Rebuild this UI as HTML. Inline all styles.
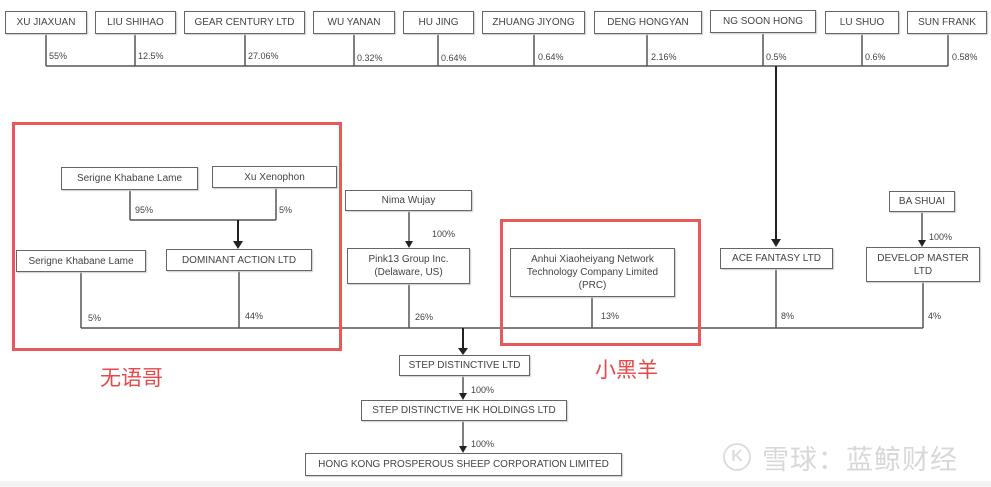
<!DOCTYPE html>
<html><head><meta charset="utf-8"><style>
body{margin:0;width:991px;height:487px;background:#fff;position:relative;overflow:hidden;font-family:"Liberation Sans","Noto Sans CJK SC",sans-serif;}
.b{position:absolute;border:1.5px solid #666;box-sizing:border-box;background:#fff;color:#444;font-size:10px;display:flex;align-items:center;justify-content:center;text-align:center;line-height:13px;box-shadow:1px 1px 1px #ccc;}
.p{position:absolute;font-size:9px;color:#444;}
.r{position:absolute;border:3px solid #e85a5a;box-sizing:border-box;}
.cn{position:absolute;color:#e84848;font-size:21px;font-family:"Noto Sans CJK SC",sans-serif;}
</style></head><body>
<svg width="991" height="487" style="position:absolute;left:0;top:0" stroke="#555" stroke-width="1.5" fill="none">
<path d="M46 34V66M135 34V66M245 34V66M354 34V66M438 34V66M534 34V66M647 34V66M763 34V66M862 34V66M948 34V66M46 66H948"/>
<path d="M776 66V240" stroke="#222" stroke-width="2"/>
<path d="M130 190V220M276 188V220M130 220H276"/>
<path d="M238 220V242" stroke="#222" stroke-width="2"/>
<path d="M81 272V328M239 271V328M409 284V328M592 297V328M776 269V328M923 282V328M81 328H923"/>
<path d="M409 211V242M922 212V241"/>
<path d="M463 328V349" stroke="#222" stroke-width="2"/>
<path d="M463 375V394M463 421V447"/>
<g fill="#222" stroke="none">
<path d="M771 239h10l-5 8z"/><path d="M233 241h10l-5 8z"/><path d="M405 241h8l-4 7z"/><path d="M918 240h8l-4 7z"/><path d="M458 348h10l-5 7z"/><path d="M459 393h8l-4 7z"/><path d="M459 446h8l-4 7z"/>
</g>
</svg>
<div class="b" style="left:5px;top:11px;width:82px;height:23px">XU JIAXUAN</div>
<div class="b" style="left:95px;top:11px;width:81px;height:23px">LIU SHIHAO</div>
<div class="b" style="left:184px;top:11px;width:121px;height:23px">GEAR CENTURY LTD</div>
<div class="b" style="left:313px;top:11px;width:82px;height:23px">WU YANAN</div>
<div class="b" style="left:403px;top:11px;width:71px;height:23px">HU JING</div>
<div class="b" style="left:482px;top:11px;width:103px;height:23px">ZHUANG JIYONG</div>
<div class="b" style="left:594px;top:11px;width:108px;height:23px">DENG HONGYAN</div>
<div class="b" style="left:710px;top:10px;width:106px;height:23px">NG SOON HONG</div>
<div class="b" style="left:825px;top:11px;width:74px;height:23px">LU SHUO</div>
<div class="b" style="left:907px;top:11px;width:80px;height:23px">SUN FRANK</div>
<div class="p" style="left:49px;top:51px">55%</div>
<div class="p" style="left:138px;top:51px">12.5%</div>
<div class="p" style="left:248px;top:51px">27.06%</div>
<div class="p" style="left:357px;top:53px">0.32%</div>
<div class="p" style="left:441px;top:53px">0.64%</div>
<div class="p" style="left:538px;top:52px">0.64%</div>
<div class="p" style="left:651px;top:52px">2.16%</div>
<div class="p" style="left:766px;top:52px">0.5%</div>
<div class="p" style="left:865px;top:52px">0.6%</div>
<div class="p" style="left:952px;top:52px">0.58%</div>

<div class="b" style="left:61px;top:167px;width:137px;height:23px">Serigne Khabane Lame</div>
<div class="b" style="left:212px;top:166px;width:125px;height:22px">Xu Xenophon</div>
<div class="p" style="left:135px;top:205px">95%</div>
<div class="p" style="left:279px;top:205px">5%</div>
<div class="b" style="left:16px;top:250px;width:130px;height:22px">Serigne Khabane Lame</div>
<div class="b" style="left:166px;top:249px;width:146px;height:22px">DOMINANT ACTION LTD</div>
<div class="p" style="left:88px;top:313px">5%</div>
<div class="p" style="left:245px;top:311px">44%</div>
<div class="b" style="left:345px;top:190px;width:127px;height:21px">Nima Wujay</div>
<div class="p" style="left:432px;top:229px">100%</div>
<div class="b" style="left:347px;top:248px;width:123px;height:36px">Pink13 Group Inc.<br>(Delaware, US)</div>
<div class="p" style="left:415px;top:312px">26%</div>
<div class="b" style="left:510px;top:248px;width:165px;height:49px">Anhui Xiaoheiyang Network<br>Technology Company Limited<br>(PRC)</div>
<div class="p" style="left:601px;top:311px">13%</div>
<div class="b" style="left:720px;top:248px;width:113px;height:21px">ACE FANTASY LTD</div>
<div class="p" style="left:781px;top:311px">8%</div>
<div class="b" style="left:889px;top:191px;width:66px;height:21px">BA SHUAI</div>
<div class="p" style="left:929px;top:232px">100%</div>
<div class="b" style="left:866px;top:247px;width:114px;height:35px">DEVELOP MASTER<br>LTD</div>
<div class="p" style="left:928px;top:311px">4%</div>

<div class="b" style="left:399px;top:355px;width:131px;height:21px">STEP DISTINCTIVE LTD</div>
<div class="p" style="left:471px;top:385px">100%</div>
<div class="b" style="left:361px;top:400px;width:206px;height:21px">STEP DISTINCTIVE HK HOLDINGS LTD</div>
<div class="p" style="left:471px;top:439px">100%</div>
<div class="b" style="left:305px;top:453px;width:317px;height:23px">HONG KONG PROSPEROUS SHEEP CORPORATION LIMITED</div>

<div class="r" style="left:12px;top:122px;width:330px;height:229px"></div>
<div class="r" style="left:500px;top:219px;width:201px;height:127px"></div>
<div class="cn" style="left:100px;top:362px">无语哥</div>
<div class="cn" style="left:595px;top:354px">小黑羊</div>

<div style="position:absolute;left:723px;top:443px;width:24px;height:24px;border:2px solid #ddd;border-radius:50%;color:#ddd;font-size:16px;line-height:24px;text-align:center;font-weight:bold">K</div>
<div style="position:absolute;left:762px;top:438px;font-size:27px;color:#d8d8d8;font-family:'Noto Sans CJK SC',sans-serif;letter-spacing:1px">雪球：蓝鲸财经</div>
<div style="position:absolute;left:0;top:481px;width:991px;height:6px;background:#f2f2f2"></div>
</body></html>
